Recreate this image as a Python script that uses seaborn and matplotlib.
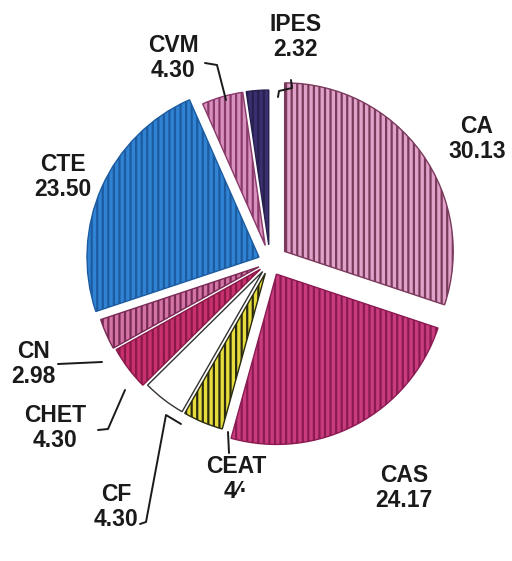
import matplotlib
matplotlib.use('Agg')
import matplotlib.pyplot as plt
import seaborn as sns

# ---- data ----
labels = ['CA', 'CAS', 'CEAT', 'CF', 'CHET', 'CN', 'CTE', 'CVM', 'IPES']
values = [30.13, 24.17, 4.01, 4.30, 4.30, 2.98, 23.50, 4.30, 2.32]
value_text = ['30.13', '24.17', '4\u2044\u00b7', '4.30', '4.30', '2.98', '23.50', '4.30', '2.32']

# ---- style ----
sns.set_theme(style='white')
plt.rcParams['font.family'] = ['Liberation Sans', 'DejaVu Sans']
plt.rcParams['hatch.linewidth'] = 1.6

fill = ['#e0a2c8', '#c83c7e', '#e6dc3c', '#ffffff', '#c8306e',
        '#d274a4', '#2f83d2', '#d890bf', '#3b2f70']
stripe = ['#7a3a5c', '#8c1a52', '#2a2a10', '#333333', '#8a1848',
          '#7a2a56', '#1c5ba0', '#8a3a6a', '#25204e']
hatches = ['|||', '|||', '|||', '', '|||', '|||', '|||', '|||', '|||']
explode = [0.105, 0.08, 0.07, 0.07, 0.07, 0.07, 0.07, 0.1, 0.1]
rscale = [0.98, 0.99, 0.94, 0.94, 0.96, 0.97, 1.0, 0.9, 0.9]

PX = 172.0             # pixels per unit radius
CX, CY = 270.0, 262.0  # pie center in image pixels (top origin)


def p2d(px, py):
    return ((px - CX) / PX, (CY - py) / PX)


fig = plt.figure(figsize=(5.12, 5.61), dpi=100)
ax = fig.add_axes([0, 0, 1, 1])
wedges, _ = ax.pie(values, startangle=90, counterclock=False, explode=explode,
                   colors=fill, wedgeprops=dict(linewidth=1.0))
for w, ec, h, rs in zip(wedges, stripe, hatches, rscale):
    w.set_edgecolor(ec)
    w.set_hatch(h)
    w.set_radius(rs)

# label positions (pixel, top origin) - layout only
label_pos = {
    'CA': (477, 139), 'CAS': (404, 488), 'CEAT': (236, 479), 'CF': (116, 507),
    'CHET': (55, 428), 'CN': (33, 364), 'CTE': (63, 177), 'CVM': (173, 58),
    'IPES': (296, 37),
}
for lab, vt in zip(labels, value_text):
    x, y = p2d(*label_pos[lab])
    ax.text(x, y, f'{lab}\n{vt}', ha='center', va='center', fontsize=16.5,
            fontweight='bold', color='#1a1a1a', linespacing=1.15)

leaders = [
    [(291, 80), (292, 88), (279, 91), (278, 97)],        # IPES
    [(205, 63), (217, 65), (226, 100)],                  # CVM
    [(58, 364), (102, 362)],                             # CN
    [(98, 430), (108, 429), (125, 390)],                 # CHET
    [(140, 524), (146, 522), (166, 415), (181, 424)],    # CF
    [(229, 453), (228, 432)],                            # CEAT
]
for pts in leaders:
    xs, ys = zip(*[p2d(a, b) for a, b in pts])
    ax.plot(xs, ys, color='#1a1a1a', lw=1.4)

ax.set_xlim(-CX / PX, (512 - CX) / PX)
ax.set_ylim(-(561 - CY) / PX, CY / PX)
ax.set_aspect('equal')
ax.axis('off')
fig.savefig('out.png', dpi=100)
